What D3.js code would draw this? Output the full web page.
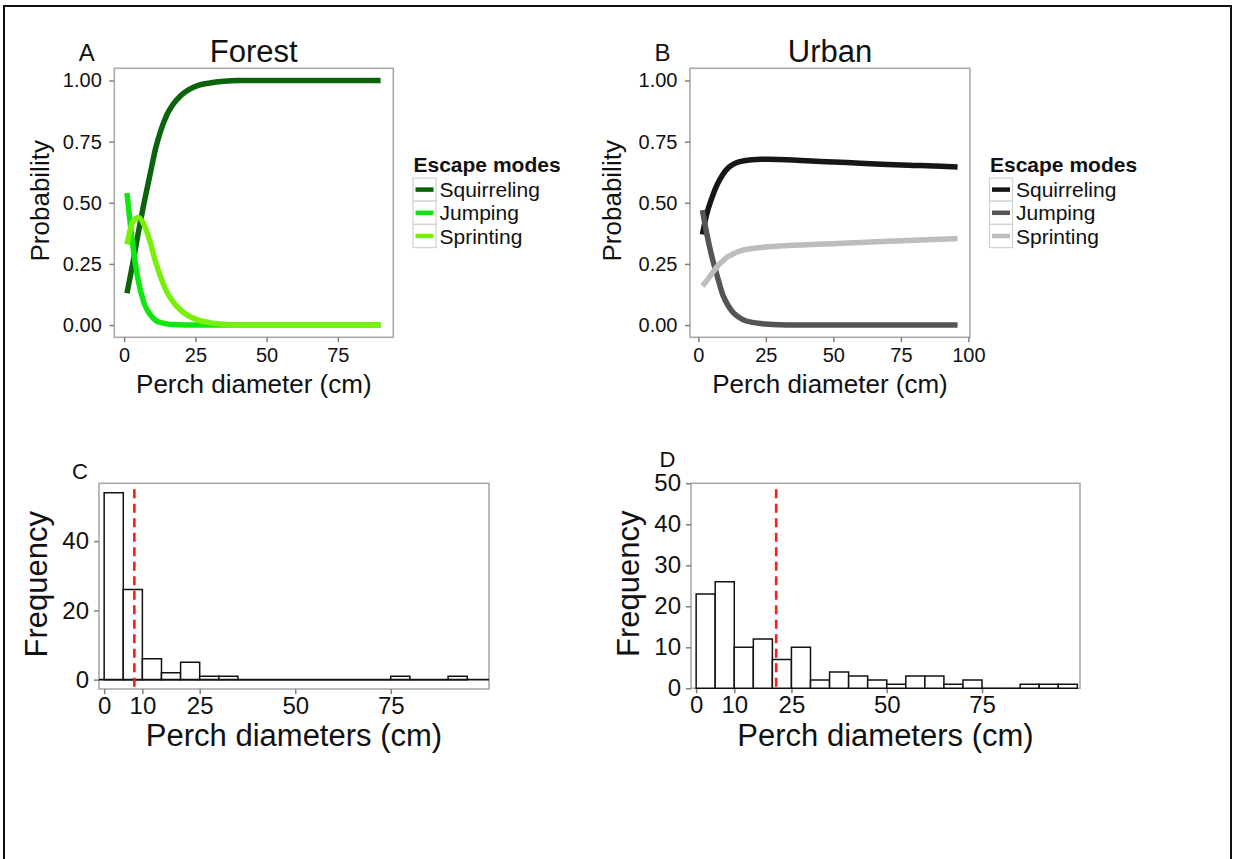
<!DOCTYPE html>
<html>
<head>
<meta charset="utf-8">
<title>Escape modes by perch diameter</title>
<script src="https://cdnjs.cloudflare.com/ajax/libs/d3/7.8.5/d3.min.js"></script>
<style>
body {
  margin: 0;
  background: #ffffff;
}
svg text {
  font-family: "Liberation Sans", Arial, sans-serif;
  fill: #111;
}
.frame rect {
  fill: none;
  stroke: #aaaaaa;
  stroke-width: 1.6px;
}
.tick line {
  stroke: #808080;
  stroke-width: 1.5px;
}
.bar {
  fill: #ffffff;
  stroke: #111;
  stroke-width: 1.5px;
}
</style>
</head>
<body>
<div class="target"></div>
<script>
// ---- data ----
var modes = ["Squirreling", "Jumping", "Sprinting"];

var forestX = [1, 3, 5, 7, 9, 11, 13, 15, 17, 20, 23, 26, 30, 35, 40, 50, 60, 70, 80, 90];
var forestSquirreling = [0.13, 0.25, 0.38, 0.50, 0.61, 0.72, 0.80, 0.86, 0.90, 0.94, 0.965, 0.98, 0.99, 0.997, 1, 1, 1, 1, 1, 1];
var forestJumping = [0.54, 0.33, 0.18, 0.09, 0.045, 0.02, 0.01, 0.005, 0.002, 0.001, 0, 0, 0, 0, 0, 0, 0, 0, 0, 0];
var forestSprinting = [0.33, 0.42, 0.44, 0.41, 0.345, 0.26, 0.19, 0.135, 0.098, 0.059, 0.035, 0.02, 0.01, 0.003, 0, 0, 0, 0, 0, 0];

var urbanX = [1.5, 3, 5, 7, 9, 11, 13, 15, 17, 20, 23, 26, 30, 35, 40, 50, 60, 70, 80, 90, 96];
var urbanSquirreling = [0.37, 0.45, 0.52, 0.575, 0.615, 0.642, 0.658, 0.667, 0.672, 0.676, 0.678, 0.678, 0.677, 0.675, 0.672, 0.667, 0.662, 0.657, 0.653, 0.649, 0.646];
var urbanJumping = [0.47, 0.38, 0.28, 0.20, 0.125, 0.08, 0.05, 0.032, 0.02, 0.011, 0.006, 0.003, 0.001, 0, 0, 0, 0, 0, 0, 0, 0];
var urbanSprinting = [0.16, 0.18, 0.21, 0.24, 0.262, 0.28, 0.292, 0.301, 0.308, 0.313, 0.317, 0.32, 0.323, 0.326, 0.328, 0.333, 0.338, 0.343, 0.347, 0.351, 0.354];

var probTicks = [0, 0.25, 0.5, 0.75, 1];
var forestDiamTicks = [0, 25, 50, 75];
var urbanDiamTicks = [0, 25, 50, 75, 100];

var binWidth = 5;
var forestCounts = [54, 26, 6, 2, 5, 1, 1, 0, 0, 0, 0, 0, 0, 0, 0, 1, 0, 0, 1];
var urbanCounts = [23, 26, 10, 12, 7, 10, 2, 4, 3, 2, 1, 3, 3, 1, 2, 0, 0, 1, 1, 1];
var histXTicks = [0, 10, 25, 50, 75];
var forestFreqTicks = [0, 20, 40];
var urbanFreqTicks = [0, 10, 20, 30, 40, 50];
var forestMean = 7.9;
var urbanMean = 21;

var forestColors = ["#0b640b", "#0ee80e", "#77f00a"];
var urbanColors = ["#161616", "#555555", "#bdbdbd"];

var svg = d3.select(".target").append("svg")
  .attr("width", 1238)
  .attr("height", 859);

// outer figure border
svg.append("path")
  .attr("d", "M4,870V6H1231V870")
  .attr("fill", "none")
  .attr("stroke", "#111")
  .attr("stroke-width", 2);

linePanel({
  box: {x0: 114.3, x1: 393.3, y0: 68.3, y1: 337.3},
  xDomain: [-3.45, 94.45], xTicks: forestDiamTicks,
  xs: forestX, series: [forestSquirreling, forestJumping, forestSprinting],
  colors: forestColors, letter: "A", title: "Forest",
  yLabelX: 49, legendX: 413
});

linePanel({
  box: {x0: 690, x1: 970, y0: 68.3, y1: 337.3},
  xDomain: [-3.1, 100.6], xTicks: urbanDiamTicks,
  xs: urbanX, series: [urbanSquirreling, urbanJumping, urbanSprinting],
  colors: urbanColors, letter: "B", title: "Urban",
  yLabelX: 621, legendX: 989.5
});

histPanel({
  box: {x0: 99, x1: 489, y0: 483.3, y1: 689},
  yDomain: [-2.7, 56.7], yTicks: forestFreqTicks,
  counts: forestCounts, mean: forestMean, zeroLine: true,
  letter: "C", letterX: 80, letterY: 478.5, yLabelX: 47
});

histPanel({
  box: {x0: 691, x1: 1080, y0: 483.3, y1: 688.3},
  yDomain: [0, 50], yTicks: urbanFreqTicks,
  counts: urbanCounts, mean: urbanMean, zeroLine: false,
  letter: "D", letterX: 667.5, letterY: 466.7, yLabelX: 639
});

function linePanel(p) {
  var b = p.box;
  var x = d3.scaleLinear().domain(p.xDomain).range([b.x0, b.x1]);
  var y = d3.scaleLinear().domain([-0.05, 1.05]).range([b.y1, b.y0]);
  var g = svg.append("g");

  frame(g, b);

  g.append("g")
    .attr("transform", "translate(0," + b.y1 + ")")
    .call(d3.axisBottom(x).tickValues(p.xTicks).tickSize(5).tickPadding(6))
    .call(styleAxis, 20);

  g.append("g")
    .attr("transform", "translate(" + b.x0 + ",0)")
    .call(d3.axisLeft(y).tickValues(probTicks).tickFormat(d3.format(".2f")).tickSize(5).tickPadding(7.5))
    .call(styleAxis, 20);

  var line = d3.line()
    .x(function(d) { return x(d[0]); })
    .y(function(d) { return y(d[1]); })
    .curve(d3.curveMonotoneX);

  p.series.forEach(function(vals, i) {
    g.append("path")
      .datum(p.xs.map(function(v, k) { return [v, vals[k]]; }))
      .attr("d", line)
      .attr("fill", "none")
      .attr("stroke", p.colors[i])
      .attr("stroke-width", 5.5)
      .attr("stroke-linejoin", "round");
  });

  var cx = (b.x0 + b.x1) / 2;
  g.append("text").attr("x", cx).attr("y", 62)
    .attr("text-anchor", "middle").style("font-size", "31px").text(p.title);
  g.append("text").attr("x", b.x0 - 27.5).attr("y", 61)
    .attr("text-anchor", "middle").style("font-size", "24px").text(p.letter);
  g.append("text").attr("x", cx).attr("y", 392.7)
    .attr("text-anchor", "middle").style("font-size", "26px").text("Perch diameter (cm)");
  g.append("text")
    .attr("transform", "translate(" + p.yLabelX + "," + ((b.y0 + b.y1) / 2 - 2) + ") rotate(-90)")
    .attr("text-anchor", "middle").style("font-size", "26px").text("Probability");

  // legend
  var lg = g.append("g").attr("transform", "translate(" + p.legendX + ",0)");
  lg.append("text").attr("x", 0.5).attr("y", 172.3)
    .style("font-size", "21px").style("font-weight", "bold").text("Escape modes");
  var rowH = 23.2, top = 178;
  modes.forEach(function(m, i) {
    var ry = top + i * rowH;
    lg.append("rect").attr("x", 0).attr("y", ry).attr("width", 23).attr("height", rowH)
      .attr("fill", "#fff").attr("stroke", "#d4d4d4").attr("stroke-width", 1.3);
    lg.append("line").attr("x1", 2.5).attr("x2", 20.5)
      .attr("y1", ry + rowH / 2).attr("y2", ry + rowH / 2)
      .attr("stroke", p.colors[i]).attr("stroke-width", 4.5);
    lg.append("text").attr("x", 26.5).attr("y", ry + rowH / 2 + 7.5)
      .style("font-size", "21px").text(m);
  });
}

function histPanel(p) {
  var b = p.box;
  var x = d3.scaleLinear().domain([-1.35, 100.7]).range([b.x0, b.x1]);
  var y = d3.scaleLinear().domain(p.yDomain).range([b.y1, b.y0]);
  var g = svg.append("g");

  frame(g, b);

  g.append("g")
    .attr("transform", "translate(0," + b.y1 + ")")
    .call(d3.axisBottom(x).tickValues(histXTicks).tickSize(5).tickPadding(2.5))
    .call(styleAxis, 24);

  g.append("g")
    .attr("transform", "translate(" + b.x0 + ",0)")
    .call(d3.axisLeft(y).tickValues(p.yTicks).tickSize(5).tickPadding(5))
    .call(styleAxis, 24);

  var bins = p.counts.map(function(c, i) { return {x0: i * binWidth, x1: (i + 1) * binWidth, n: c}; });

  // path instead of rect so that empty bins still show as a line on zero
  g.selectAll(".bar").data(bins).enter().append("path")
    .attr("class", "bar")
    .attr("d", function(d) {
      var l = x(d.x0), r = x(d.x1), t = y(d.n), z = y(0);
      return "M" + l + "," + z + "V" + t + "H" + r + "V" + z + "Z";
    });

  if (p.zeroLine) {
    g.append("line")
      .attr("x1", b.x0).attr("x2", b.x1)
      .attr("y1", y(0)).attr("y2", y(0))
      .attr("stroke", "#111").attr("stroke-width", 1.6);
  }

  g.append("line")
    .attr("x1", x(p.mean)).attr("x2", x(p.mean))
    .attr("y1", b.y0 + 6).attr("y2", b.y1)
    .attr("stroke", "#ff1a1a").attr("stroke-width", 2.6)
    .attr("stroke-dasharray", "9,5.5");

  var cx = (b.x0 + b.x1) / 2;
  g.append("text").attr("x", p.letterX).attr("y", p.letterY)
    .attr("text-anchor", "middle").style("font-size", "22px").text(p.letter);
  g.append("text").attr("x", cx).attr("y", 745.5)
    .attr("text-anchor", "middle").style("font-size", "31px").text("Perch diameters (cm)");
  g.append("text")
    .attr("transform", "translate(" + p.yLabelX + "," + ((b.y0 + b.y1) / 2 - 2) + ") rotate(-90)")
    .attr("text-anchor", "middle").style("font-size", "31px").text("Frequency");
}

function frame(g, b) {
  g.append("g").attr("class", "frame")
    .append("rect")
      .attr("x", b.x0).attr("y", b.y0)
      .attr("width", b.x1 - b.x0).attr("height", b.y1 - b.y0);
}

function styleAxis(sel, size) {
  sel.select(".domain").remove();
  sel.selectAll("text")
    .style("font-size", size + "px")
    .style("font-family", "'Liberation Sans', Arial, sans-serif")
    .attr("fill", "#111");
}
</script>
</body>
</html>
